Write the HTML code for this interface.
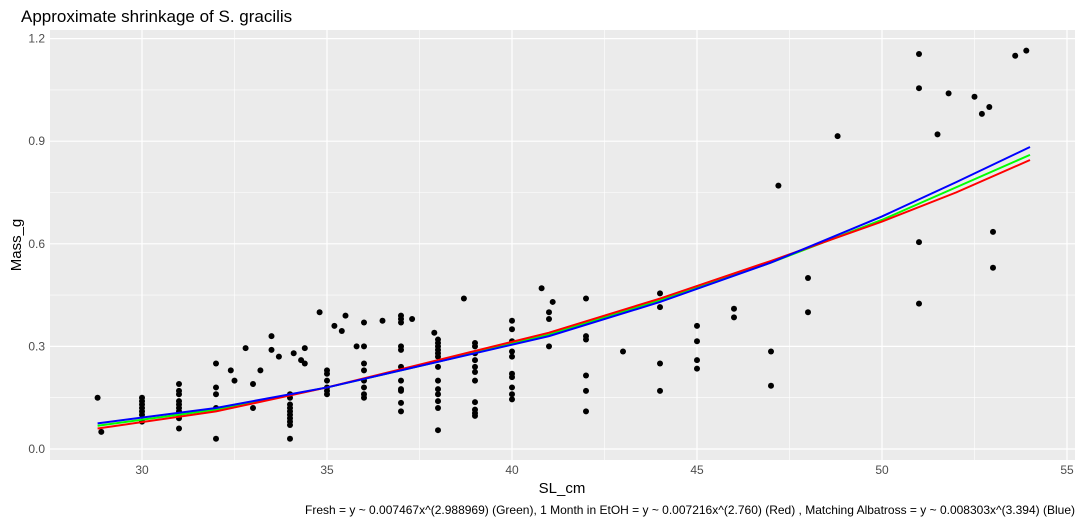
<!DOCTYPE html>
<html><head><meta charset="utf-8"><style>
body{margin:0;background:#fff;font-family:"Liberation Sans",sans-serif;}
svg text{font-family:"Liberation Sans",sans-serif;}
</style></head><body>
<svg id="c" width="1083" height="523"></svg>
<script>
const xTicks=[30,35,40,45,50,55];
const yTicks=[0.0,0.3,0.6,0.9,1.2];
const yTickLabels=["0.0","0.3","0.6","0.9","1.2"];
const ptX=[28.8,28.9,30,30,30,30,30,30,30,31,31,31,31,31,31,31,31,31,31,32,32,32,32,32,32.4,32.5,32.8,33.0,33.0,33.2,33.5,33.5,33.7,34.1,34.3,34.4,34.4,34.8,35.2,35.4,35.5,35.8,34,34,34,34,34,34,34,34,34,34,35,35,35,35,35,35,36,36,36,36,36,36,36,36,36.5,37,37,37,37.3,37,37,37,37,37,37,37,37,37.9,38,38,38,38,38,38,38,38,38,38,38,38,38,38.7,39,39,39,39,39,39,39,39,39,39,39,40,40,40,40,40,40,40,40,40,40,40.8,41.1,41,41,41,42,42,42,42,42,42,43,44,44,44,44,45,45,45,45,46,46,47,47,47.2,48,48,48.8,51,51,51,51,51.5,51.8,52.5,52.7,52.9,53,53,53.6,53.9];
const ptY=[0.15,0.05,0.15,0.14,0.13,0.11,0.10,0.08,0.12,0.19,0.17,0.16,0.14,0.13,0.12,0.11,0.10,0.09,0.06,0.25,0.18,0.16,0.12,0.03,0.23,0.20,0.295,0.19,0.12,0.23,0.33,0.29,0.27,0.28,0.26,0.295,0.25,0.40,0.36,0.345,0.39,0.30,0.16,0.15,0.13,0.12,0.11,0.10,0.09,0.08,0.07,0.03,0.23,0.22,0.20,0.18,0.17,0.16,0.37,0.30,0.25,0.23,0.20,0.18,0.16,0.15,0.375,0.39,0.38,0.37,0.38,0.30,0.29,0.24,0.20,0.175,0.17,0.135,0.11,0.34,0.32,0.31,0.30,0.29,0.28,0.27,0.24,0.20,0.175,0.16,0.14,0.12,0.055,0.44,0.31,0.30,0.28,0.26,0.24,0.225,0.20,0.137,0.115,0.105,0.097,0.375,0.35,0.315,0.285,0.27,0.22,0.21,0.18,0.16,0.145,0.47,0.43,0.40,0.38,0.30,0.44,0.33,0.32,0.215,0.17,0.11,0.285,0.455,0.415,0.25,0.17,0.36,0.315,0.26,0.235,0.41,0.385,0.285,0.185,0.77,0.50,0.40,0.915,1.155,1.055,0.605,0.425,0.92,1.04,1.03,0.98,1.0,0.635,0.53,1.15,1.165];
const curveX=[28.8,32,35,38,41,44,47,50,52,54];
const greenY=[0.068,0.115,0.18,0.255,0.335,0.435,0.545,0.67,0.765,0.86];
const redY=[0.06,0.11,0.18,0.26,0.34,0.44,0.55,0.665,0.75,0.845];
const blueY=[0.075,0.12,0.18,0.255,0.33,0.43,0.545,0.68,0.78,0.883];
const L=50,R=1075,T=30,B=460;
const sx=v=>142+(v-30)*37, sy=v=>449-v*342;
const svg=document.getElementById('c');const NS='http://www.w3.org/2000/svg';
function mk(t,a,p){const e=document.createElementNS(NS,t);for(const k in a)e.setAttribute(k,a[k]);(p||svg).appendChild(e);return e;}
const panel=mk('rect',{x:L,y:T,width:R-L,height:B-T,fill:'#EBEBEB'});


for(let i=0;i<xTicks.length;i++){const v=xTicks[i];
 const mn=mk('line',{x1:sx(v-2.5),x2:sx(v-2.5),y1:T,y2:B,stroke:'#fff','stroke-width':0.6});
 
 const g=mk('line',{x1:sx(v),x2:sx(v),y1:T,y2:B,stroke:'#fff','stroke-width':1.2});
 
 const t=mk('text',{x:sx(v),y:474,'font-size':12,fill:'#4D4D4D','text-anchor':'middle'});t.textContent=v;
 }
for(let i=0;i<yTicks.length;i++){const v=yTicks[i];
 if(i<yTicks.length-1){const mn=mk('line',{x1:L,x2:R,y1:sy(v+0.15),y2:sy(v+0.15),stroke:'#fff','stroke-width':0.6});
 }
 const g=mk('line',{x1:L,x2:R,y1:sy(v),y2:sy(v),stroke:'#fff','stroke-width':1.2});
 
 const t=mk('text',{x:45,y:sy(v)+4,'font-size':12,fill:'#4D4D4D','text-anchor':'end'});t.textContent=yTickLabels[i];
 }
for(let i=0;i<ptX.length;i++){const c=mk('circle',{cx:sx(ptX[i]),cy:sy(ptY[i]),r:3,fill:'#000'});
 }
function curve(ys,col,name){const d=curveX.map((x,i)=>(i?'L':'M')+sx(x)+','+sy(ys[i])).join('');
 const p=mk('path',{d:d,fill:'none',stroke:col,'stroke-width':2});
 }
curve(greenY,'#00FF00','fresh-fit-line');
curve(redY,'#FF0000','etoh-fit-line');
curve(blueY,'#0000FF','albatross-fit-line');
const tt=mk('text',{x:21,y:22,'font-size':17,fill:'#000'});tt.textContent='Approximate shrinkage of S. gracilis';

const xt=mk('text',{x:562,y:493,'font-size':15,fill:'#000','text-anchor':'middle'});xt.textContent='SL_cm';

const yt=mk('text',{x:21,y:245,'font-size':15,fill:'#000','text-anchor':'middle',transform:'rotate(-90 21 245)'});yt.textContent='Mass_g';

const cap=mk('text',{x:1075,y:514,'font-size':12,fill:'#000','text-anchor':'end'});cap.textContent='Fresh = y ~ 0.007467x^(2.988969) (Green), 1 Month in EtOH = y ~ 0.007216x^(2.760) (Red) , Matching Albatross = y ~ 0.008303x^(3.394) (Blue)';

</script>
</body></html>
